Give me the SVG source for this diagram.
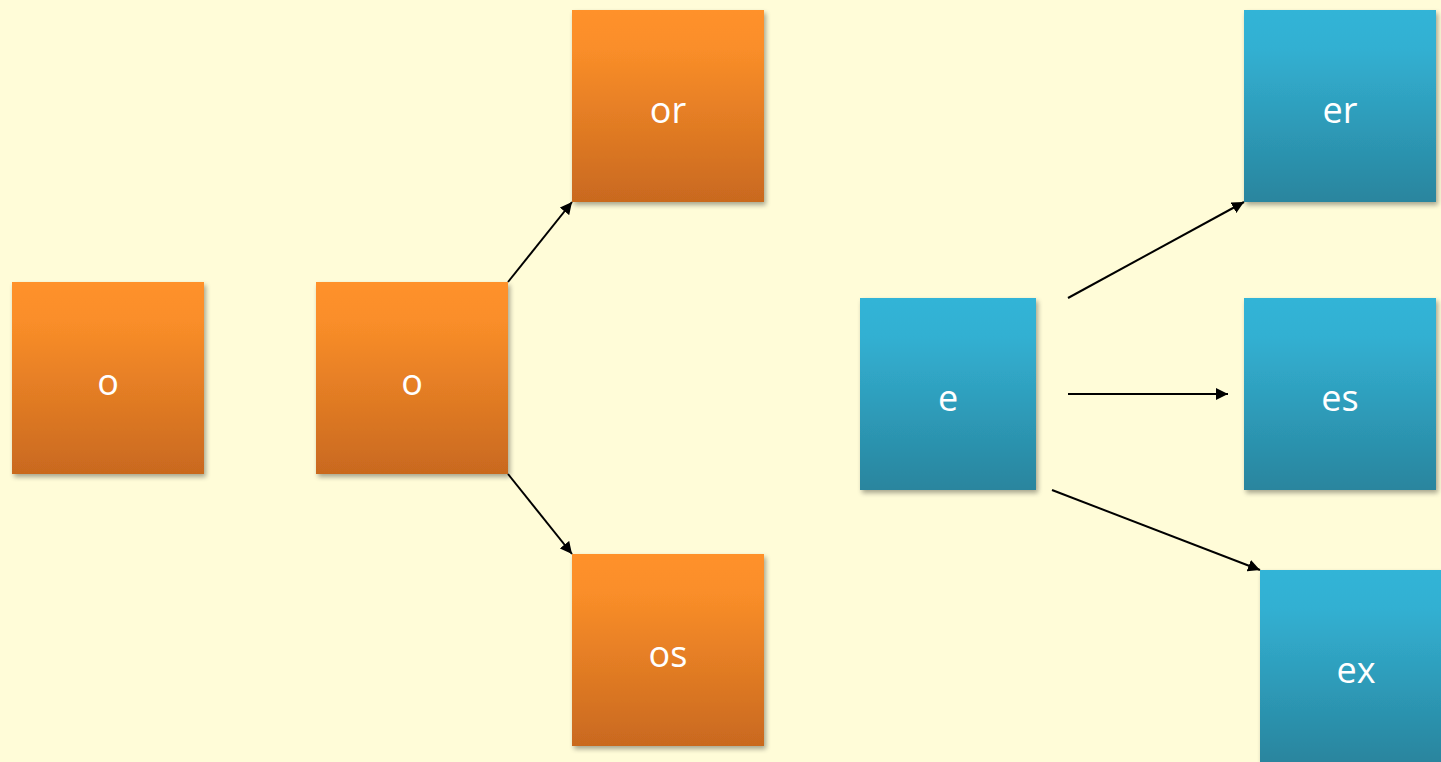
<svg xmlns="http://www.w3.org/2000/svg" width="1441" height="762" viewBox="0 0 1441 762">
<style>
.lbl{font-family:"Open Sans","Liberation Sans",sans-serif;font-size:36px;fill:#ffffff;text-anchor:middle}
.con{stroke:#000;stroke-width:2;fill:none;marker-end:url(#ah)}
</style>
<defs>
<linearGradient id="og" x1="0" y1="0" x2="0" y2="1">
<stop offset="0" stop-color="#FF9129"/><stop offset="0.2" stop-color="#FA8E29"/><stop offset="1" stop-color="#C9691F"/>
</linearGradient>
<linearGradient id="bg" x1="0" y1="0" x2="0" y2="1">
<stop offset="0" stop-color="#33B4D7"/><stop offset="0.2" stop-color="#32B0D2"/><stop offset="1" stop-color="#29859E"/>
</linearGradient>
<filter id="sh" x="-10%" y="-10%" width="130%" height="130%">
<feGaussianBlur in="SourceAlpha" stdDeviation="2.5"/>
<feOffset dx="2" dy="3" result="b"/>
<feComponentTransfer><feFuncA type="linear" slope="0.35"/></feComponentTransfer>
<feMerge><feMergeNode/><feMergeNode in="SourceGraphic"/></feMerge>
</filter>
<marker id="ah" viewBox="0 0 10 10" refX="10" refY="5" markerWidth="6" markerHeight="6" orient="auto" markerUnits="strokeWidth">
<path d="M0,0 L10,5 L0,10 z" fill="#000"/>
</marker>
</defs>
<rect width="1441" height="762" fill="#FFFCD8"/>
<g id="connectors">
<line class="con" x1="508" y1="282" x2="572" y2="202"/>
<line class="con" x1="508" y1="474" x2="572" y2="554"/>
<line class="con" x1="1068" y1="298" x2="1244" y2="202"/>
<line class="con" x1="1068" y1="394" x2="1228" y2="394"/>
<line class="con" x1="1052" y1="490" x2="1260" y2="570"/>
</g>
<g id="node-o1"><rect x="12" y="282" width="192" height="192" fill="url(#og)" filter="url(#sh)"/><text class="lbl" x="108" y="395">o</text></g>
<g id="node-o2"><rect x="316" y="282" width="192" height="192" fill="url(#og)" filter="url(#sh)"/><text class="lbl" x="412" y="395">o</text></g>
<g id="node-or"><rect x="572" y="10" width="192" height="192" fill="url(#og)" filter="url(#sh)"/><text class="lbl" x="668" y="123">or</text></g>
<g id="node-os"><rect x="572" y="554" width="192" height="192" fill="url(#og)" filter="url(#sh)"/><text class="lbl" x="668" y="667">os</text></g>
<g id="node-e"><rect x="860" y="298" width="176" height="192" fill="url(#bg)" filter="url(#sh)"/><text class="lbl" x="948" y="411">e</text></g>
<g id="node-er"><rect x="1244" y="10" width="192" height="192" fill="url(#bg)" filter="url(#sh)"/><text class="lbl" x="1340" y="123">er</text></g>
<g id="node-es"><rect x="1244" y="298" width="192" height="192" fill="url(#bg)" filter="url(#sh)"/><text class="lbl" x="1340" y="411">es</text></g>
<g id="node-ex"><rect x="1260" y="570" width="192" height="192" fill="url(#bg)" filter="url(#sh)"/><text class="lbl" x="1356" y="683">ex</text></g>
</svg>
